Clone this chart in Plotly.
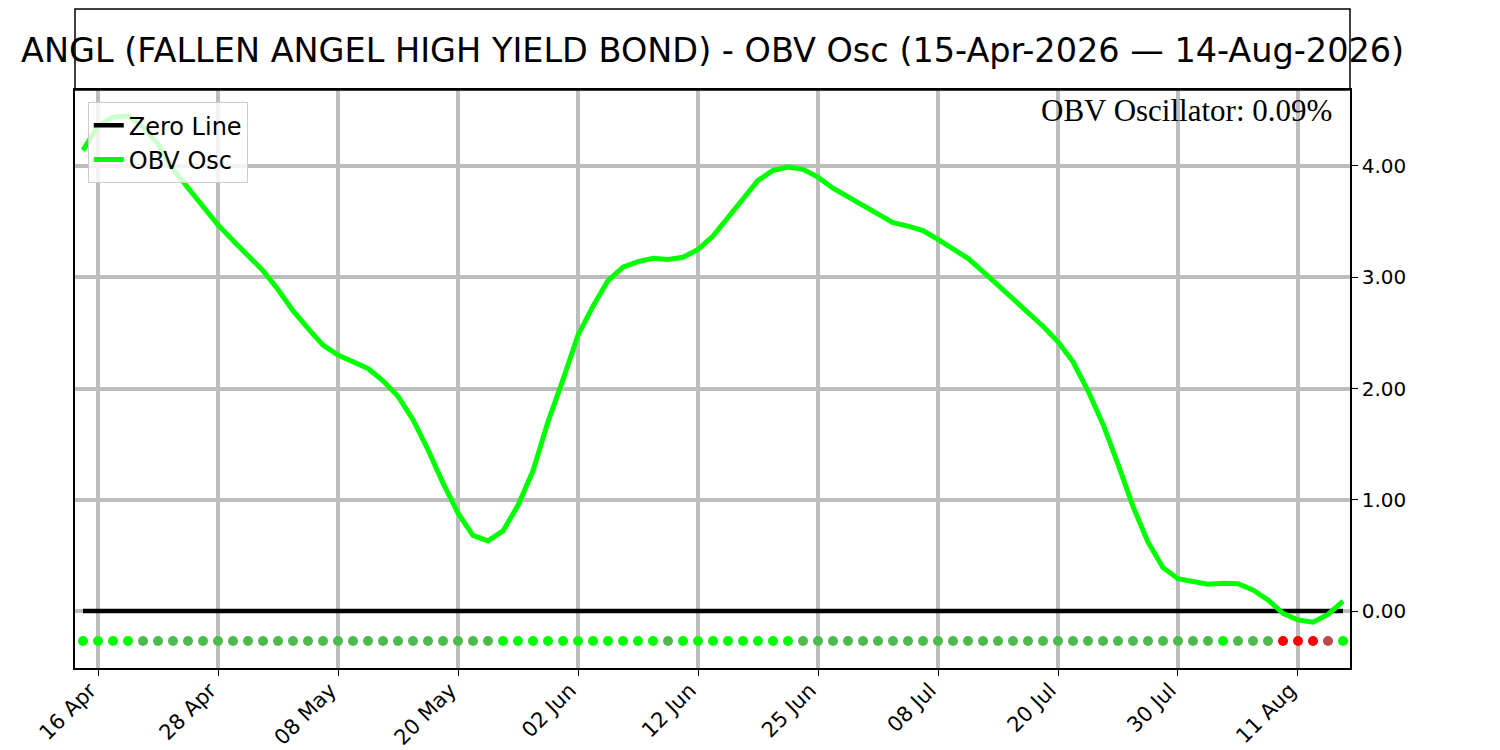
import pandas as pd
import plotly.graph_objects as go

# dias de mercado (NYSE) entre 15-Apr-2026 y 14-Aug-2026
feriados = ['2026-05-25', '2026-06-19', '2026-07-03']
fechas = pd.bdate_range('2026-04-15', '2026-08-14', freq='C', holidays=feriados)

# OBV oscilador (%)
obv_osc = [4.14, 4.36, 4.44, 4.45, 4.35, 4.20, 3.97, 3.80, 3.63, 3.47,
           3.33, 3.19, 3.06, 2.89, 2.70, 2.54, 2.39, 2.30, 2.24, 2.18,
           2.07, 1.93, 1.72, 1.45, 1.15, 0.88, 0.68, 0.63, 0.72, 0.95,
           1.26, 1.70, 2.08, 2.48, 2.74, 2.97, 3.09, 3.14, 3.17, 3.16,
           3.18, 3.25, 3.37, 3.54, 3.70, 3.87, 3.96, 3.99, 3.97, 3.90,
           3.80, 3.72, 3.65, 3.57, 3.49, 3.46, 3.42, 3.34, 3.26, 3.17,
           3.05, 2.93, 2.81, 2.69, 2.56, 2.42, 2.24, 1.98, 1.68, 1.32,
           0.94, 0.62, 0.39, 0.29, 0.26, 0.24, 0.25, 0.245, 0.19, 0.10,
           -0.02, -0.08, -0.10, -0.03, 0.09]

# estado de cada punto inferior: U sube, D baja, R negativo baja, B negativo sube
estado = ('UUUU' + 'D' * 24 + 'U' * 11 + 'D' + 'U' * 8 + 'D' * 28 +
          'U' + 'DDD' + 'RRR' + 'B' + 'U')

ultimo_valor = obv_osc[-1]
titulo = 'ANGL (FALLEN ANGEL HIGH YIELD BOND) - OBV Osc (15-Apr-2026 \u2014 14-Aug-2026)'

colores = {'U': '#00ff00', 'D': '#4cbb4c', 'R': '#ff0000', 'B': '#bb4a4a'}

x = list(range(len(fechas)))
pos_ticks = x[1::8]
txt_ticks = [fechas[i].strftime('%d %b') for i in pos_ticks]

fig = go.Figure()
fig.add_trace(go.Scatter(x=x, y=[0] * len(x), mode='lines', name='Zero Line',
                         line=dict(color='black', width=4.5)))
fig.add_trace(go.Scatter(x=x, y=obv_osc, mode='lines', name='OBV Osc',
                         line=dict(color='#00ff00', width=5)))
fig.add_trace(go.Scatter(x=x, y=[-0.27] * len(x), mode='markers', showlegend=False,
                         marker=dict(color=[colores[e] for e in estado], size=10)))

# caja del titulo
fig.add_shape(type='rect', xref='paper', yref='paper', x0=0, x1=1, y0=1, y1=1.140,
              line=dict(color='black', width=1.5))
fig.add_annotation(text=titulo, xref='paper', yref='paper', x=0.5, y=1.069,
                   xanchor='center', yanchor='middle', showarrow=False,
                   font=dict(family='DejaVu Sans', size=33.5, color='black'))
fig.add_annotation(text='OBV Oscillator: %.2f%%' % ultimo_valor, xref='paper', yref='paper',
                   x=0.9875, y=0.965, xanchor='right', yanchor='middle', showarrow=False,
                   font=dict(family='Liberation Serif', size=31, color='black'))

fig.update_xaxes(range=[-0.533, 84.467], tickvals=pos_ticks, ticktext=txt_ticks,
                 tickangle=-45, ticks='outside', ticklen=6, tickcolor='black',
                 ticklabelstandoff=-6, ticklabelshift=-8,
                 showgrid=True, gridcolor='#bdbdbd', gridwidth=4, zeroline=False,
                 showline=True, linecolor='black', linewidth=1.5, mirror=True,
                 automargin=False,
                 tickfont=dict(family='DejaVu Sans', size=21, color='black'))
fig.update_yaxes(range=[-0.512, 4.683], side='right', tickvals=[0, 1, 2, 3, 4],
                 tickformat='.2f', ticks='outside', ticklen=6, tickcolor='black',
                 showgrid=True, gridcolor='#bdbdbd', gridwidth=4, zeroline=False,
                 showline=True, linecolor='black', linewidth=1.5, mirror=True,
                 automargin=False,
                 tickfont=dict(family='DejaVu Sans', size=20, color='black'))

# la pagina tiene 8px de margen en el body
fig.update_layout(width=1484, height=742, plot_bgcolor='white', paper_bgcolor='white',
                  margin=dict(l=67, r=142, t=82, b=82),
                  legend=dict(x=0.01, y=0.979, xanchor='left', yanchor='top',
                              bgcolor='rgba(255,255,255,0.8)', bordercolor='#cccccc',
                              borderwidth=1, itemwidth=30, tracegroupgap=0,
                              font=dict(family='DejaVu Sans', size=24, color='black')))

fig.write_html('out.html')
